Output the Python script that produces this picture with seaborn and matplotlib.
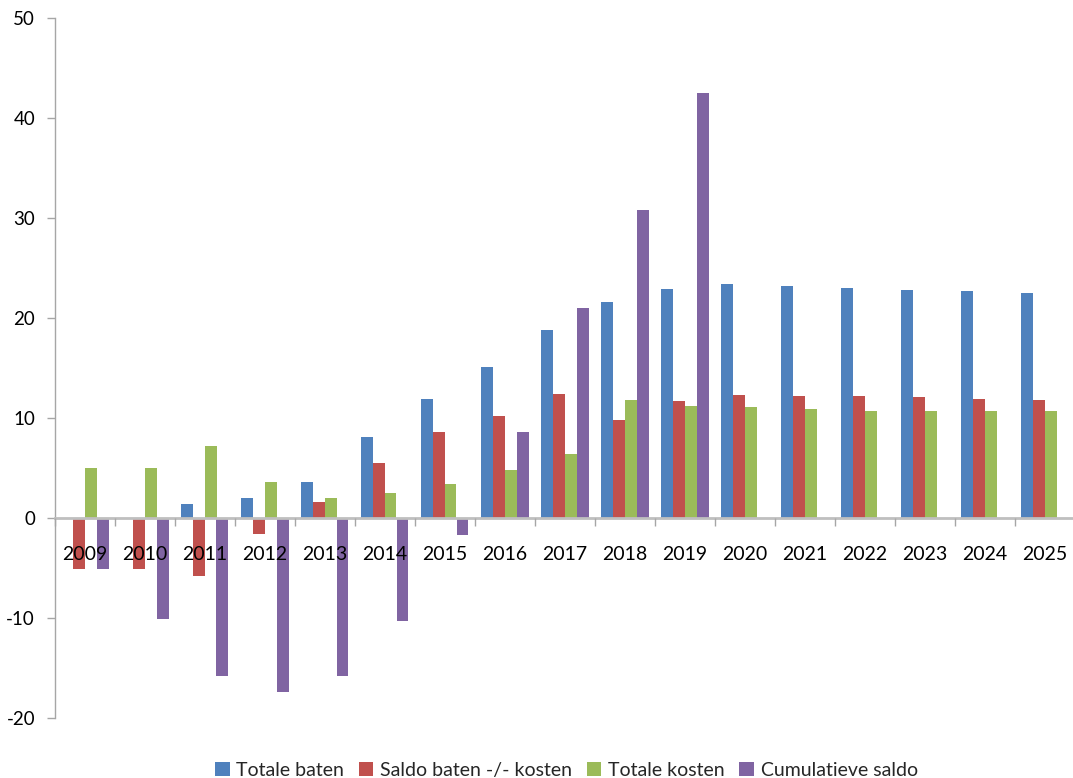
import numpy as np
import pandas as pd
import matplotlib
matplotlib.use("Agg")
import matplotlib.pyplot as plt
import seaborn as sns

years = [str(y) for y in range(2009, 2026)]

totale_baten = [np.nan, np.nan, 1.4, 2.0, 3.6, 8.1, 11.9, 15.1, 18.8, 21.6,
                22.9, 23.4, 23.2, 23.0, 22.8, 22.7, 22.5]
saldo = [-5.1, -5.1, -5.8, -1.6, 1.6, 5.5, 8.6, 10.2, 12.4, 9.8,
         11.7, 12.3, 12.2, 12.2, 12.1, 11.9, 11.8]
totale_kosten = [5.0, 5.0, 7.2, 3.6, 2.0, 2.5, 3.4, 4.8, 6.4, 11.8,
                 11.2, 11.1, 10.9, 10.7, 10.7, 10.7, 10.7]
cumulatief = [-5.1, -10.1, -15.8, -17.4, -15.8, -10.3, -1.7, 8.6, 21.0, 30.8,
              42.5, np.nan, np.nan, np.nan, np.nan, np.nan, np.nan]

series_names = ["Totale baten", "Saldo baten -/- kosten", "Totale kosten",
                "Cumulatieve saldo"]
colors = ["#4F81BD", "#C0504D", "#9BBB59", "#8064A2"]

frames = []
for name, vals in zip(series_names, [totale_baten, saldo, totale_kosten, cumulatief]):
    frames.append(pd.DataFrame({"jaar": years, "waarde": vals, "reeks": name}))
df = pd.concat(frames, ignore_index=True).dropna()

sns.set_theme(style="white")
plt.rcParams["font.family"] = ["Lato", "DejaVu Sans"]
plt.rcParams["axes.unicode_minus"] = False

fig = plt.figure(figsize=(10.73, 7.78), dpi=100)
ax = fig.add_axes([54.5 / 1073, 60 / 778, 1020 / 1073, 700 / 778])

sns.barplot(data=df, x="jaar", y="waarde", hue="reeks", order=years,
            hue_order=series_names, palette=colors, width=0.8,
            saturation=1, ax=ax, errorbar=None, legend=True, linewidth=0)

ax.set_xlim(-0.5, len(years) - 0.5)
ax.set_ylim(-20, 50)
ax.set_yticks(range(-20, 51, 10))
ax.set_xlabel("")
ax.set_ylabel("")

# spines: left axis gray, horizontal axis through zero
for s in ["top", "right"]:
    ax.spines[s].set_visible(False)
ax.spines["left"].set_color("#A6A6A6")
ax.spines["left"].set_linewidth(1.0)
ax.spines["bottom"].set_position(("data", 0))
ax.spines["bottom"].set_color("#BFBFBF")
ax.spines["bottom"].set_linewidth(2.0)
ax.spines["bottom"].set_zorder(3)

ax.tick_params(axis="y", which="major", left=True, length=6, width=1,
               color="#A6A6A6", labelsize=13.5, pad=8, labelcolor="black")
ax.set_xticks(np.arange(len(years)))
ax.set_xticklabels(years)
ax.set_xticks(np.arange(len(years) + 1) - 0.5, minor=True)
ax.tick_params(axis="x", which="major", bottom=True, length=0, pad=20,
               labelsize=14, labelcolor="black")
ax.tick_params(axis="x", which="minor", bottom=True, length=6, width=1,
               color="#A6A6A6", direction="out")
# year labels sit on top of the bars
ax.xaxis.set_zorder(5)

leg = ax.legend(loc="lower center", bbox_to_anchor=(0.5 + 2 / 1020, -60 / 700 - 0.012),
                ncol=4, frameon=False, fontsize=14, handlelength=0.75,
                handleheight=0.75, handletextpad=0.35, columnspacing=0.75,
                borderaxespad=0)

fig.savefig("out.png", dpi=100)
